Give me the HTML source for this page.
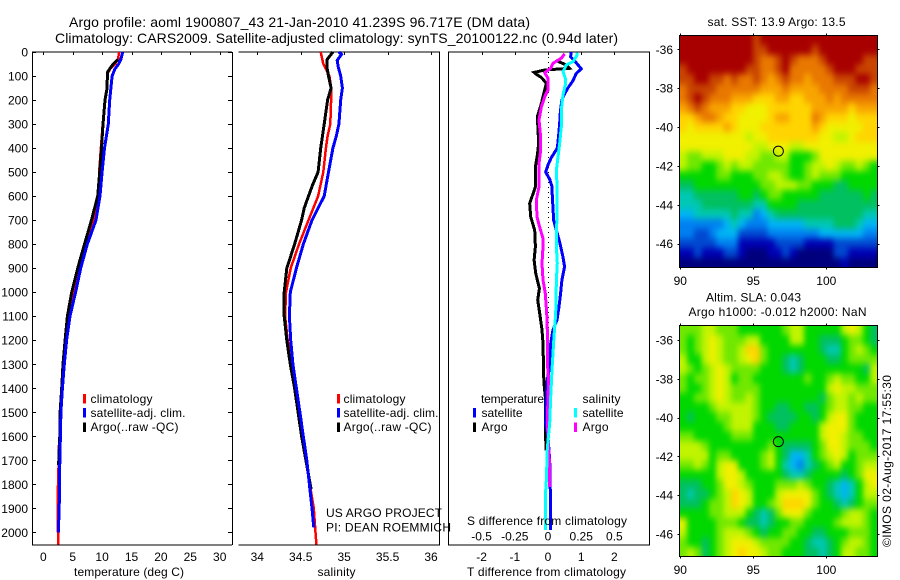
<!DOCTYPE html>
<html lang="en">
<head>
<meta charset="utf-8">
<title>Argo profile aoml 1900807_43</title>
<style>
html,body{margin:0;padding:0;background:#fff;}
svg{display:block;font-family:"Liberation Sans",sans-serif;font-size:12px;fill:#000;}
text{fill:#000;stroke:none;}
</style>
</head>
<body>
<svg id="chart" xmlns="http://www.w3.org/2000/svg" width="900" height="580" viewBox="0 0 900 580">
  <defs>
    <filter id="mapSmooth" x="-5%" y="-5%" width="110%" height="110%" color-interpolation-filters="sRGB">
      <feGaussianBlur stdDeviation="2.6 3.4"/>
      <feComponentTransfer>
        <feFuncA type="table" tableValues="0 1 1 1 1 1 1 1 1 1"/>
      </feComponentTransfer>
    </filter>
    <clipPath id="clipSst"><rect x="679.5" y="35.5" width="198" height="232"/></clipPath>
    <clipPath id="clipSla"><rect x="679.5" y="325.5" width="198" height="231"/></clipPath>
  </defs>
  <rect x="0" y="0" width="900" height="580" fill="#fff"/>
  <text x="69" y="27" font-size="14" textLength="461">Argo profile: aoml 1900807_43 21-Jan-2010 41.239S 96.717E (DM data)</text>
  <text x="55" y="43" font-size="14" textLength="563">Climatology: CARS2009. Satellite-adjusted climatology: synTS_20100122.nc (0.94d later)</text>

  <g id="p1"></g>
  <g id="p2"></g>
  <g id="p3"></g>
  <g id="m1"></g>
  <g id="m2"></g>

  <text x="74" y="576" textLength="110">temperature (deg C)</text>
  <text x="317.5" y="576" textLength="38">salinity</text>
  <text x="467" y="576" textLength="159">T difference from climatology</text>
  <text x="467" y="525" textLength="160">S difference from climatology</text>

  <g>
    <rect x="83" y="394" width="3" height="9.5" fill="#f00"/>
    <rect x="83" y="408" width="3" height="9.5" fill="#00f"/>
    <rect x="83" y="422.5" width="3" height="9.5" fill="#000"/>
    <text x="90.5" y="403" textLength="62">climatology</text>
    <text x="90.5" y="417" textLength="95">satellite-adj. clim.</text>
    <text x="90.5" y="431" textLength="88">Argo(..raw -QC)</text>
  </g>
  <g>
    <rect x="337" y="394" width="3" height="9.5" fill="#f00"/>
    <rect x="337" y="408" width="3" height="9.5" fill="#00f"/>
    <rect x="337" y="422.5" width="3" height="9.5" fill="#000"/>
    <text x="343.5" y="403" textLength="62">climatology</text>
    <text x="343.5" y="417" textLength="95">satellite-adj. clim.</text>
    <text x="343.5" y="431" textLength="88">Argo(..raw -QC)</text>
  </g>
  <text x="326" y="517" textLength="116">US ARGO PROJECT</text>
  <text x="326" y="531.5" textLength="125">PI: DEAN ROEMMICH</text>
  <g>
    <text x="481" y="403" textLength="63">temperature</text>
    <text x="582.5" y="403" textLength="38">salinity</text>
    <rect x="473" y="408" width="3" height="9.5" fill="#00f"/>
    <rect x="473" y="422.5" width="3" height="9.5" fill="#000"/>
    <rect x="574" y="408" width="3" height="9.5" fill="#0ff"/>
    <rect x="574" y="422.5" width="3" height="9.5" fill="#f0f"/>
    <text x="481.5" y="417" textLength="41">satellite</text>
    <text x="481.5" y="431" textLength="26">Argo</text>
    <text x="582.5" y="417" textLength="41">satellite</text>
    <text x="582.5" y="431" textLength="26">Argo</text>
  </g>

  <text x="707.5" y="26" textLength="138">sat. SST: 13.9 Argo: 13.5</text>
  <text x="706" y="301.5" textLength="95">Altim. SLA: 0.043</text>
  <text x="688.5" y="316" textLength="178">Argo h1000: -0.012 h2000: NaN</text>
  <text transform="translate(891,547) rotate(-90)" textLength="172">©IMOS 02-Aug-2017 17:55:30</text>
</svg>

<script>
/* ---------- profile data ---------- */
const tClimDepth = [0,30,50,70,90,150,200,300,400,500,600,700,800,900,1000,1100,1200,1300,1400,1500,1600,1650,1720,1850,1950,2050];
const tClimValue = [12.9,12.7,12.2,11.4,10.9,10.8,10.5,10.1,9.8,9.5,9.4,8.6,7.37,6.1,5.2,4.42,3.86,3.46,3.18,3.0,2.85,2.6,2.6,2.45,2.45,2.55];
const tSatDepth = [0,30,50,70,100,200,300,400,500,600,700,800,900,1000,1100,1200,1300,1400,1500,1600,1700,1800,1900,2000];
const tSatValue = [13.5,13.2,12.8,12.2,11.7,11.3,11.05,10.4,10.0,9.64,8.96,7.49,6.36,5.5,4.54,3.97,3.57,3.24,3.0,2.9,2.8,2.75,2.7,2.55];
const tArgoDepth = [30,50,70,85,150,200,300,400,500,600,700,800,900,1000,1100,1200,1300,1400,1500,1600,1720];
const tArgoValue = [12.7,11.9,11.3,10.9,10.85,10.5,10.15,9.9,9.6,9.25,8.2,7.0,5.85,4.83,4.1,3.7,3.35,3.13,2.85,2.8,2.6];

const sClimDepth = [0,50,100,150,200,300,350,400,500,600,700,800,900,1000,1100,1200,1300,1400,1500,1600,1800,1900,2000,2050];
const sClimValue = [34.73,34.76,34.83,34.85,34.85,34.84,34.81,34.79,34.76,34.70,34.59,34.48,34.385,34.33,34.32,34.35,34.40,34.43,34.48,34.51,34.605,34.65,34.67,34.68];
const sSatDepth = [0,10,35,60,100,150,200,300,350,400,500,600,700,800,900,1000,1100,1200,1300,1400,1500,1600,1700,1800,1900,1980];
const sSatValue = [34.94,34.97,34.92,34.93,34.96,34.98,34.96,34.94,34.91,34.87,34.82,34.77,34.63,34.53,34.45,34.38,34.37,34.385,34.41,34.45,34.49,34.53,34.57,34.6,34.63,34.65];
const sArgoDepth = [0,33,60,100,150,200,300,400,500,550,600,650,700,800,900,1000,1100,1200,1300,1400,1500,1600,1700,1820];
const sArgoValue = [34.87,34.80,34.80,34.82,34.85,34.81,34.77,34.73,34.70,34.64,34.59,34.54,34.51,34.43,34.34,34.31,34.31,34.34,34.38,34.43,34.47,34.51,34.56,34.62];

const dtSatDepth = [0,20,30,45,70,90,120,150,180,200,250,300,350,400,440,470,500,530,560,600,650,700,741,790,852,894,949,1005,1060,1116,1157,1213,1310,1365,1435,1546,1600,1700,1830,1990];
const dtSatValue = [0.70,0.68,0.75,0.85,1.0,0.85,0.75,0.6,0.48,0.42,0.37,0.35,0.32,0.28,0.1,0,-0.07,0.05,0.12,0.13,0.15,0.17,0.25,0.35,0.45,0.5,0.42,0.38,0.33,0.27,0.15,0.08,0.05,-0.02,-0.05,-0.07,0,0.05,0.07,0.07];
const dtArgoDepth = [36,54,68,75,85,93,106,130,158,214,269,325,380,429,478,561,589,631,686,742,810,866,921,984,1032,1088,1157,1213,1352,1393,1435,1546,1660];
const dtArgoValue = [0.25,0.55,0.65,-0.1,-0.42,-0.35,-0.2,-0.05,-0.1,-0.2,-0.32,-0.3,-0.28,-0.32,-0.38,-0.38,-0.45,-0.55,-0.52,-0.4,-0.38,-0.42,-0.37,-0.26,-0.31,-0.25,-0.18,-0.15,-0.13,-0.11,-0.08,-0.08,-0.06];
const dsSatDepth = [3,12,40,54,82,110,137,179,242,311,380,436,492,561,672,776,810,880,949,1088,1185,1324,1435,1546,1650,1780,1850,1990];
const dsSatValue = [0.216,0.22,0.19,0.138,0.113,0.13,0.13,0.113,0.1,0.1,0.088,0.075,0.063,0.068,0.068,0.063,0.063,0.07,0.063,0.058,0.045,0.03,0.02,0.0125,-0.005,-0.012,-0.02,-0.02];
const dsArgoDepth = [8,26,47,68,86,110,158,186,228,283,339,408,464,561,617,686,728,776,810,880,949,1005,1088,1157,1296,1365,1435,1546,1650,1720,1810];
const dsArgoValue = [0.125,0.1,0.038,0.02,-0.025,0,0,-0.025,-0.05,-0.068,-0.058,-0.055,-0.068,-0.068,-0.088,-0.083,-0.063,-0.038,-0.038,-0.045,-0.038,-0.02,-0.01,-0.005,-0.005,0.005,0,-0.005,0.005,0.012,0.012];

/* ---------- tick labels ---------- */
const depthTicks = [0,100,200,300,400,500,600,700,800,900,1000,1100,1200,1300,1400,1500,1600,1700,1800,1900,2000];
const tempTicks = [0,5,10,15,20,25,30];
const salTicks = [34,34.5,35,35.5,36];
const dtTicks = [-2,-1,0,1,2];
const dsTicks = [-0.5,-0.25,0,0.25,0.5];
const lonTicks = [90,95,100];
const latTicks = [-36,-38,-40,-42,-44,-46];
const argoLon = 96.717;
const argoLat = -41.239;

/* ---------- map grids (colour level 0 = coldest/lowest, 15 = warmest/highest) ---------- */
const sstGrid = [
[15,15,15,15,15,15,15,15,15,15,14,15,15,15,15,15,15,15,15,15,15,15,15,15,15,15,15],
[15,15,15,15,15,15,15,15,15,15,14,14,15,15,15,15,15,15,14,15,15,15,15,15,15,15,15],
[15,15,15,15,15,15,15,15,15,15,14,13,13,14,15,14,13,13,13,14,15,15,15,15,15,14,14],
[14,15,15,15,15,15,15,15,15,14,14,13,13,14,15,13,13,13,13,13,14,15,15,15,14,14,14],
[14,14,15,15,14,14,13,14,13,13,14,13,12,13,14,13,13,12,13,13,13,14,14,14,15,15,14],
[13,14,14,14,14,13,13,13,13,13,13,12,12,12,13,12,12,12,12,13,13,13,13,14,14,14,13],
[13,14,15,14,13,13,13,12,12,12,11,11,11,12,12,11,11,12,12,12,13,12,13,13,13,13,13],
[12,13,14,13,12,12,12,11,11,10,10,10,11,11,11,11,11,11,12,12,12,12,12,11,12,12,12],
[11,11,12,13,13,12,11,11,10,10,10,10,11,12,12,11,11,11,13,12,11,11,11,10,11,11,11],
[11,10,11,11,11,11,12,11,10,10,10,11,11,11,11,11,11,11,12,11,10,10,10,10,10,11,11],
[10,10,10,10,10,10,10,10,10,9,10,10,11,11,11,11,11,11,11,10,10,9,9,10,11,11,11],
[10,10,10,10,10,10,10,10,10,10,9,9,10,10,10,9,9,10,10,10,10,10,10,10,10,10,10],
[9,8,8,9,9,9,10,10,10,9,9,8,8,9,9,7,7,7,8,10,10,10,10,10,10,10,10],
[9,8,8,7,7,8,9,8,9,9,8,8,8,8,8,7,7,8,9,9,10,9,8,8,9,8,7],
[7,7,7,7,7,8,8,7,7,7,8,8,9,9,8,7,7,8,9,8,8,8,7,7,7,7,7],
[6,6,7,7,7,7,7,7,7,7,7,8,8,9,9,9,8,8,7,7,7,6,6,7,7,7,7],
[5,5,6,6,6,6,6,6,7,7,6,7,8,8,7,7,7,7,7,6,6,6,6,6,6,7,6],
[5,5,5,6,6,6,6,6,6,6,5,5,7,7,7,7,6,6,6,6,6,6,6,6,6,6,6],
[4,4,5,5,5,5,5,6,5,5,3,4,5,6,6,6,6,6,6,6,6,6,6,6,6,5,5],
[3,3,3,3,3,3,4,5,4,3,3,3,4,4,4,4,4,5,5,5,5,6,6,6,5,4,4],
[3,3,2,2,3,4,4,4,2,2,2,2,3,3,3,3,3,3,3,4,4,4,4,4,4,3,3],
[2,2,2,2,2,3,3,3,1,1,1,1,1,2,2,2,2,1,1,1,1,2,2,2,2,2,2],
[1,1,2,1,1,1,2,2,1,0,0,0,1,1,2,1,0,0,0,0,0,2,2,1,1,1,1],
[0,0,0,0,0,0,0,0,0,0,0,0,0,0,0,0,0,0,0,0,0,0,1,0,0,0,0]
];
const slaGrid = [
[8,8,8,9,9,8,8,8,7,7,7,7,7,7,8,9,9,7,7,7,7,7,9,10,9,7,6],
[8,7,8,9,10,9,8,8,8,9,9,7,7,7,7,9,9,7,7,6,6,6,7,8,8,7,6],
[8,7,8,9,10,9,8,8,9,11,11,8,7,7,7,7,7,7,7,6,5,5,7,8,9,8,7],
[9,7,7,9,10,9,8,8,9,10,11,8,7,7,6,5,6,7,7,7,6,6,7,8,8,8,8],
[9,8,7,8,9,10,9,8,8,8,8,7,7,7,6,5,6,7,7,7,7,7,7,7,7,6,9],
[8,7,8,8,9,10,9,7,8,8,7,7,7,7,7,7,7,8,7,7,8,9,8,8,7,7,9],
[8,7,7,8,9,10,9,8,8,8,8,7,7,7,7,7,7,7,7,7,9,10,9,9,8,8,8],
[7,7,8,8,9,10,9,8,8,9,8,7,7,7,7,7,7,7,7,6,8,9,9,8,9,8,8],
[7,7,7,7,8,9,9,9,9,9,8,7,7,6,6,7,7,6,6,7,8,9,9,8,8,7,7],
[7,6,7,7,7,8,8,9,9,9,8,7,6,6,6,6,7,7,6,7,9,10,10,8,7,7,7],
[7,7,7,7,7,7,8,9,9,9,7,7,7,6,6,7,7,7,7,9,10,10,10,8,7,7,7],
[8,8,7,7,7,7,7,8,8,8,7,7,7,7,7,7,7,7,7,9,10,10,9,8,8,7,7],
[9,9,9,8,7,7,7,7,7,7,7,7,8,7,6,6,6,6,7,8,10,10,9,8,8,8,7],
[9,9,9,9,7,8,8,7,7,7,7,8,9,7,6,4,4,5,7,8,9,10,9,7,8,8,8],
[8,8,9,8,7,9,10,10,7,7,7,8,9,7,5,4,3,5,6,7,8,9,7,7,8,9,9],
[7,7,7,7,7,9,10,10,9,7,7,7,7,7,6,5,5,6,7,7,7,7,6,7,8,10,10],
[6,6,6,7,7,8,10,10,9,8,7,7,7,8,8,8,9,8,7,7,6,5,4,5,7,9,10],
[6,5,6,6,7,8,9,11,10,9,7,7,7,9,10,10,10,10,8,7,6,5,4,5,7,9,9],
[6,6,6,7,8,8,9,11,10,9,7,7,8,9,11,11,11,10,8,7,7,6,5,6,7,8,8],
[7,7,7,7,8,8,9,9,9,7,6,5,6,8,10,10,10,8,7,7,7,7,8,9,9,8,7],
[10,7,7,7,7,8,8,8,7,6,6,5,6,7,7,8,8,7,7,7,7,8,9,9,9,8,7],
[9,7,7,7,7,8,9,9,9,8,7,6,7,7,8,8,7,7,6,6,7,7,7,8,8,8,7],
[8,7,7,6,7,8,9,10,10,10,9,8,8,8,8,7,7,6,5,5,6,7,8,9,9,8,7],
[8,9,8,6,7,8,9,10,11,10,10,9,8,8,7,7,7,6,6,5,6,7,9,9,8,8,7]
];

/* ---------- helpers ---------- */
const NS = 'http://www.w3.org/2000/svg';
function make(tag, attrs, parent) {
  const el = document.createElementNS(NS, tag);
  for (const k in attrs) el.setAttribute(k, attrs[k]);
  parent.appendChild(el);
  return el;
}
function hline(parent, x1, x2, y) {
  const el = make('line', {x1: x1, x2: x2, y1: y, y2: y, stroke: '#000', 'stroke-width': 1, 'shape-rendering': 'crispEdges'}, parent);
  
  return el;
}
function vline(parent, x, y1, y2) {
  const el = make('line', {x1: x, x2: x, y1: y1, y2: y2, stroke: '#000', 'stroke-width': 1, 'shape-rendering': 'crispEdges'}, parent);
  
  return el;
}
function label(parent, x, y, anchor, str) {
  const el = make('text', {x: x, y: y, 'text-anchor': anchor}, parent);
  el.textContent = str;
  
  return el;
}
function series(parent, xs, ys, xf, yf, colour, width) {
  const pts = ys.map(function (d, i) { return xf(xs[i]).toFixed(1) + ',' + yf(d).toFixed(1); }).join(' ');
  const el = make('polyline', {points: pts, fill: 'none', stroke: colour, 'stroke-width': width, 'shape-rendering': 'crispEdges', 'stroke-linejoin': 'miter'}, parent);
  
  return el;
}

/* ---------- scales ---------- */
const yDepth = function (d) { return 52 + 0.2402 * d; };
const xTemp = function (t) { return 43.3 + 5.88 * t; };
const xSal = function (s) { return 257.3 + 86.85 * (s - 34); };
const xDT = function (t) { return 548 + 33.2 * t; };
const xDS = function (s) { return 548 + 132.8 * s; };
const TOP = 52, BOT = 545;

/* ---------- panel 1: temperature ---------- */
const p1 = document.getElementById('p1');
hline(p1, 32, 232, TOP);
hline(p1, 32, 232, BOT);
vline(p1, 32.5, TOP, BOT);
vline(p1, 232.5, TOP, BOT);
depthTicks.forEach(function (d) {
  const y = Math.round(yDepth(d)) + 0.5;
  hline(p1, 32, 36, y);
  hline(p1, 228, 232, y);
  label(p1, 28, yDepth(d) + 4.5, 'end', String(d));
});
tempTicks.forEach(function (t) {
  const x = Math.round(xTemp(t)) + 0.5;
  vline(p1, x, TOP, TOP + 3);
  label(p1, xTemp(t), 561, 'middle', String(t));
});
series(p1, tClimValue, tClimDepth, xTemp, yDepth, '#f00', 2.5);
series(p1, tArgoValue, tArgoDepth, xTemp, yDepth, '#000', 3);
series(p1, tSatValue, tSatDepth, xTemp, yDepth, '#00f', 3);

/* ---------- panel 2: salinity ---------- */
const p2 = document.getElementById('p2');
hline(p2, 238.5, 440, TOP);
hline(p2, 238.5, 440, BOT);
vline(p2, 439.5, TOP, BOT);
salTicks.forEach(function (s) {
  const x = Math.round(xSal(s)) + 0.5;
  vline(p2, x, TOP, TOP + 3);
  label(p2, xSal(s), 561, 'middle', String(s));
});
series(p2, sClimValue, sClimDepth, xSal, yDepth, '#f00', 2.5);
series(p2, sArgoValue, sArgoDepth, xSal, yDepth, '#000', 3);
series(p2, sSatValue, sSatDepth, xSal, yDepth, '#00f', 3);

/* ---------- panel 3: differences ---------- */
const p3 = document.getElementById('p3');
hline(p3, 448, 650, TOP);
hline(p3, 448, 650, BOT);
vline(p3, 448.5, TOP, BOT);
vline(p3, 649.5, TOP, BOT);
const zeroLine = make('line', {x1: 548.5, x2: 548.5, y1: TOP, y2: 470, stroke: '#000', 'stroke-width': 1, 'stroke-dasharray': '1 4', 'shape-rendering': 'crispEdges'}, p3);


dtTicks.forEach(function (t) {
  const x = Math.round(xDT(t)) + 0.5;
  vline(p3, x, TOP, TOP + 3);
  label(p3, xDT(t), 561, 'middle', String(t));
});
dsTicks.forEach(function (s) {
  label(p3, xDS(s), 540.5, 'middle', String(s));
});
series(p3, dtArgoValue, dtArgoDepth, xDT, yDepth, '#000', 3);
series(p3, dtSatValue, dtSatDepth, xDT, yDepth, '#00f', 3);
series(p3, dsArgoValue, dsArgoDepth, xDS, yDepth, '#f0f', 3);
series(p3, dsSatValue, dsSatDepth, xDS, yDepth, '#0ff', 3);

/* ---------- maps ---------- */
function levelColour(v) {
  const stops = ['#00007c','#0000b4','#0048d0','#0080f0','#00b4f4','#00c8b4','#00c060','#00d800','#70e800','#c0f400','#f0f000','#ffd400','#f8a400','#e87800','#c84400','#a80000'];
  return stops[Math.max(0, Math.min(15, Math.round(v)))];
}
function drawMap(group, grid, clipId, left, right, top, bottom, lat36y, pxPerLat) {
  const xLon = function (lon) { return 680.3 + 14.6 * (lon - 90); };
  const yLat = function (lat) { return lat36y + pxPerLat * (-36 - lat); };
  const rows = grid.length, cols = grid[0].length;
  const colX = function (c) { return left + (right - left) * c / cols; };
  const rowY = function (r) { return top + (bottom - top) * r / rows; };
  const clipped = make('g', {'clip-path': 'url(#' + clipId + ')'}, group);
  const smooth = make('g', {filter: 'url(#mapSmooth)'}, clipped);
  grid.forEach(function (row, r) {
    row.forEach(function (v, c) {
      const cell = make('rect', {x: colX(c).toFixed(2), y: rowY(r).toFixed(2), width: (colX(c + 1) - colX(c) + 0.5).toFixed(2), height: (rowY(r + 1) - rowY(r) + 0.5).toFixed(2), fill: levelColour(v), 'shape-rendering': 'crispEdges'}, smooth);
      
      
    });
  });
  const frame = make('rect', {x: left, y: top, width: right - left, height: bottom - top, fill: 'none', stroke: '#000', 'stroke-width': 1, 'shape-rendering': 'crispEdges'}, group);
  
  
  lonTicks.forEach(function (lon) {
    const x = Math.round(xLon(lon)) + 0.5;
    vline(group, x, top - 2, top);
    vline(group, x, bottom, bottom + 2);
    label(group, xLon(lon), bottom + 17.5, 'middle', String(lon));
  });
  latTicks.forEach(function (lat) {
    const y = Math.round(yLat(lat)) + 0.5;
    hline(group, left - 2, left, y);
    hline(group, right, right + 2, y);
    label(group, 673, yLat(lat) + 4.5, 'end', String(lat));
  });
  const marker = make('circle', {cx: xLon(argoLon), cy: yLat(argoLat), r: 5, fill: 'none', stroke: '#000', 'stroke-width': 1}, group);
  
  
}
drawMap(document.getElementById('m1'), sstGrid, 'clipSst', 679.5, 877.5, 35.5, 267.5, 49.3, 19.44);
drawMap(document.getElementById('m2'), slaGrid, 'clipSla', 679.5, 877.5, 325.5, 556.5, 340, 19.4);
</script>
</body>
</html>
